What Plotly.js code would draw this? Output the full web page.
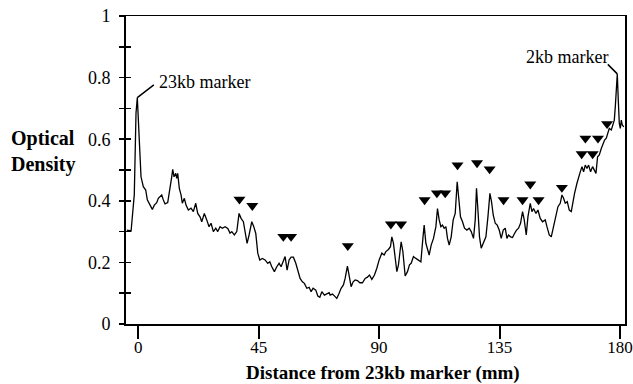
<!DOCTYPE html>
<html>
<head>
<meta charset="utf-8">
<script src="https://cdn.plot.ly/plotly-3.0.1.min.js"></script>
<style>html,body{margin:0;padding:0;background:#fff;}#chart{width:633px;height:384px;}</style>
</head>
<body>
<div id="chart"></div>
<script>
// Densitometer trace: distance (mm) from the 23kb marker vs optical density
const distance = [-4.3, -2.7, -1.5, -0.86, -0.37, 0, 0.52, 1.01, 1.87, 2.77, 3.37, 4.0, 4.75, 5.24, 5.98, 6.88, 7.48, 8.12, 8.75, 9.35, 9.98, 10.99, 11.85, 12.49, 12.86, 13.35, 13.99, 14.36, 14.73, 15.33, 15.97, 16.45, 17.2, 17.84, 18.7, 19.71, 20.57, 21.47, 22.21, 23.07, 23.71, 24.68, 25.58, 26.44, 27.19, 28.05, 28.95, 29.69, 30.55, 31.41, 32.42, 33.43, 34.29, 34.93, 35.9, 36.8,
  37.66, 38.41, 39.27, 39.9, 40.65, 41.4, 42.41, 43.16, 43.9, 44.65, 45.4, 46.37, 47.38, 48.39, 49.14, 49.89, 50.86, 51.76, 52.62, 53.37, 54.23, 54.86, 55.61, 56.36, 57.11, 57.97, 58.86, 59.61, 60.47, 61.33, 62.08, 62.98, 63.84, 64.59, 65.33, 66.34, 67.09, 67.84, 68.59, 69.56, 70.46,
  71.32, 71.69, 72.55, 73.56, 74.19, 75.05, 75.8, 76.66, 77.3, 78.16, 78.79, 79.54, 80.29, 81.04, 81.9, 82.8, 83.77, 84.78, 85.64, 86.39, 87.28, 88.26, 89.15, 90.01, 91.02, 91.88, 92.52, 93.49, 94.24, 94.76, 95.36, 96.0, 96.63, 97.23, 98.24, 98.88, 99.74, 100.6, 101.35, 101.98, 102.84, 103.74, 104.71, 105.61, 106.36, 106.84, 107.48, 108.23, 108.71,
  109.46, 110.32, 111.22, 111.82, 112.45, 113.09, 113.69, 114.32, 114.96, 115.56, 116.19, 116.94, 117.69, 118.44, 119.18, 119.82, 120.42, 121.17, 121.92, 122.81, 123.67, 124.42, 125.28, 125.92, 126.4, 126.93, 127.52, 128.16, 129.02, 129.92, 130.67, 131.41, 132.01, 132.65, 133.4, 134.14, 134.89, 135.64, 136.39, 137.14, 137.77, 138.37, 139.12, 139.87, 140.61, 141.36, 142.11, 142.86, 143.61, 144.24, 144.99, 145.62,
  146.49, 147.12, 147.72, 148.62, 149.36, 150.22, 151.08, 152.09, 152.73, 153.59, 154.34, 155.2, 156.1, 156.84, 157.7, 158.34, 158.94, 159.57, 160.32, 161.07, 161.82, 162.3, 163.05, 163.95, 164.55, 165.18, 165.82, 166.42, 167.05, 167.69, 168.29, 169.04, 169.78, 170.53, 171.05, 171.65, 172.29, 173.04, 173.67, 174.27, 174.91, 175.54, 176.03, 176.78, 177.26, 177.9, 178.27, 178.65, 179.02, 179.39, 179.77, 180.14, 180.52, 180.89, 181.45];
const density = [0.305, 0.302, 0.42, 0.685, 0.735, 0.662, 0.543, 0.478, 0.446, 0.435, 0.403, 0.392, 0.381, 0.372, 0.386, 0.394, 0.408, 0.413, 0.419, 0.403, 0.39, 0.394, 0.435, 0.478, 0.502, 0.478, 0.489, 0.473, 0.489, 0.44, 0.419, 0.392, 0.408, 0.386, 0.37, 0.376, 0.365, 0.392, 0.359, 0.348, 0.332, 0.359, 0.338, 0.316, 0.327, 0.3, 0.311, 0.3, 0.316, 0.311, 0.316, 0.31, 0.295, 0.3, 0.289, 0.3,
  0.359, 0.343, 0.332, 0.3, 0.262, 0.289, 0.332, 0.316, 0.294, 0.23, 0.208, 0.213, 0.208, 0.197, 0.202, 0.186, 0.17, 0.186, 0.197, 0.186, 0.202, 0.219, 0.175, 0.208, 0.217, 0.217, 0.197, 0.17, 0.148, 0.137, 0.132, 0.116, 0.119, 0.105, 0.116, 0.11, 0.091, 0.087, 0.105, 0.094, 0.097,
  0.102, 0.094, 0.097, 0.089, 0.083, 0.1, 0.116, 0.127, 0.148, 0.188, 0.159, 0.121, 0.137, 0.143, 0.141, 0.134, 0.134, 0.148, 0.152, 0.159, 0.145, 0.159, 0.181, 0.208, 0.23, 0.224, 0.235, 0.242, 0.251, 0.283, 0.262, 0.208, 0.17, 0.192, 0.267, 0.235, 0.156, 0.17, 0.192, 0.197, 0.219, 0.213, 0.208, 0.202, 0.278, 0.321, 0.262, 0.24, 0.224,
  0.256, 0.278, 0.316, 0.375, 0.338, 0.316, 0.321, 0.311, 0.316, 0.278, 0.256, 0.283, 0.338, 0.359, 0.462, 0.392, 0.348, 0.332, 0.311, 0.305, 0.311, 0.3, 0.278, 0.338, 0.441, 0.37, 0.283, 0.246, 0.262, 0.283, 0.348, 0.424, 0.397, 0.354, 0.327, 0.321, 0.305, 0.278, 0.305, 0.311, 0.278, 0.289, 0.283, 0.281, 0.294, 0.305, 0.311, 0.327, 0.365, 0.338, 0.289, 0.348,
  0.392, 0.365, 0.375, 0.359, 0.37, 0.343, 0.332, 0.338, 0.316, 0.289, 0.283, 0.316, 0.348, 0.381, 0.392, 0.419, 0.408, 0.392, 0.397, 0.37, 0.365, 0.392, 0.424, 0.457, 0.478, 0.494, 0.511, 0.494, 0.516, 0.505, 0.516, 0.494, 0.511, 0.494, 0.489, 0.543, 0.549, 0.57, 0.586, 0.597, 0.603, 0.624, 0.635, 0.63, 0.646, 0.662, 0.705, 0.76, 0.812, 0.727, 0.651, 0.635, 0.662, 0.646, 0.64];

// Band markers (arrowheads above peaks)
const markX = [37.8, 42.6, 54.2, 57.1, 78.3, 94.4, 98.2, 107.0, 111.6, 114.7, 119.3, 126.6, 131.3, 136.5, 143.6, 146.5, 149.6, 158.3, 165.7, 169.8, 167.1, 171.8, 175.2];
const markY = [0.405, 0.384, 0.284, 0.284, 0.254, 0.324, 0.324, 0.403, 0.425, 0.425, 0.516, 0.523, 0.503, 0.403, 0.403, 0.454, 0.403, 0.443, 0.552, 0.552, 0.603, 0.603, 0.65];

const xTicks = [0, 45, 90, 135, 180];
const xTickText = ['0', '45', '90', '135', '180'];
const yTicks = [0, 0.2, 0.4, 0.6, 0.8, 1];
const yTickText = ['0', '0.2', '0.4', '0.6', '0.8', '1'];

const markerLabels = ['23kb marker', '2kb marker'];
const markerPeakX = [-0.37, 179.02];
const markerPeakY = [0.735, 0.812];

const xTitle = 'Distance from 23kb marker (mm)';
const yTitle = 'Optical<br>Density';

const serif = '"Liberation Serif", "Times New Roman", Times, serif';

const traces = [
  {x: distance, y: density, type: 'scatter', mode: 'lines',
   line: {color: '#000', width: 1.3}, hoverinfo: 'skip'},
  {x: markX, y: markY, type: 'scatter', mode: 'markers', xaxis: 'x2', yaxis: 'y2',
   marker: {symbol: 'triangle-down', size: 10.5, color: '#000'}, hoverinfo: 'skip'}
];

const xRange = [-4.6, 181.9];

const layout = {
  width: 633, height: 384,
  margin: {l: 126, r: 8, t: 16, b: 60},
  paper_bgcolor: '#fff', plot_bgcolor: '#fff',
  showlegend: false,
  font: {family: serif, color: '#000', size: 18},
  xaxis: {
    range: xRange, showgrid: false, zeroline: false,
    showline: true, linecolor: '#000', linewidth: 1.5, mirror: true,
    tickmode: 'array', tickvals: xTicks, showticklabels: false,
    ticks: 'outside', ticklen: 13, tickwidth: 2, tickcolor: '#000'
  },
  xaxis2: {
    range: xRange, overlaying: 'x', anchor: 'y', side: 'bottom',
    showgrid: false, zeroline: false, showline: false,
    tickmode: 'array', tickvals: xTicks, ticktext: xTickText,
    ticks: '', ticklabelstandoff: 11, ticklabeloverflow: 'allow',
    tickfont: {family: serif, size: 17, color: '#000'}
  },
  yaxis: {
    range: [0, 1], showgrid: false, zeroline: false,
    showline: true, linecolor: '#000', linewidth: 2, mirror: true,
    tickmode: 'array', tickvals: yTicks, ticktext: yTickText,
    ticks: 'outside', ticklen: 5, tickwidth: 1.5, tickcolor: '#000',
    minor: {dtick: 0.1, ticks: 'outside', ticklen: 5, tickwidth: 1.5, tickcolor: '#000', showgrid: false},
    ticklabelstandoff: 5, ticklabeloverflow: 'allow',
    tickfont: {family: serif, size: 18, color: '#000'}
  },
  yaxis2: {
    range: [0, 1], overlaying: 'y', side: 'left', anchor: 'x',
    showgrid: false, zeroline: false, showline: false,
    tickmode: 'array', tickvals: yTicks, showticklabels: false,
    ticks: 'inside', ticklen: 5, tickwidth: 1.5, tickcolor: '#000',
    minor: {dtick: 0.1, ticks: 'inside', ticklen: 5, tickwidth: 1.5, tickcolor: '#000', showgrid: false}
  },
  annotations: [
    // leader lines
    {x: markerPeakX[0], y: markerPeakY[0], xref: 'x', yref: 'y', text: '', showarrow: true,
     arrowhead: 0, arrowwidth: 1.5, arrowcolor: '#000', ax: 18, ay: -14, standoff: 0, startstandoff: 0},
    {x: markerPeakX[1], y: markerPeakY[1], xref: 'x', yref: 'y', text: '', showarrow: true,
     arrowhead: 0, arrowwidth: 1.5, arrowcolor: '#000', ax: -11, ay: -11, standoff: 0, startstandoff: 0},
    // labels
    {x: 7.0, y: 0.785, xref: 'x', yref: 'y', text: markerLabels[0], showarrow: false,
     xanchor: 'left', yanchor: 'middle', font: {family: serif, size: 18, color: '#000'}},
    {x: 176.3, y: 0.868, xref: 'x', yref: 'y', text: markerLabels[1], showarrow: false,
     xanchor: 'right', yanchor: 'middle', font: {family: serif, size: 18, color: '#000'}},
    // axis titles
    {x: -0.166, y: 0.561, xref: 'paper', yref: 'paper', text: '<b>' + yTitle + '</b>', showarrow: false,
     xanchor: 'center', yanchor: 'middle', align: 'left', font: {family: serif, size: 20, color: '#000'}},
    {x: 0.515, y: -0.158, xref: 'paper', yref: 'paper', text: '<b>' + xTitle + '</b>', showarrow: false,
     xanchor: 'center', yanchor: 'middle', font: {family: serif, size: 19, color: '#000'}}
  ]
};

Plotly.newPlot('chart', traces, layout, {staticPlot: true, displayModeBar: false});
</script>
</body>
</html>
